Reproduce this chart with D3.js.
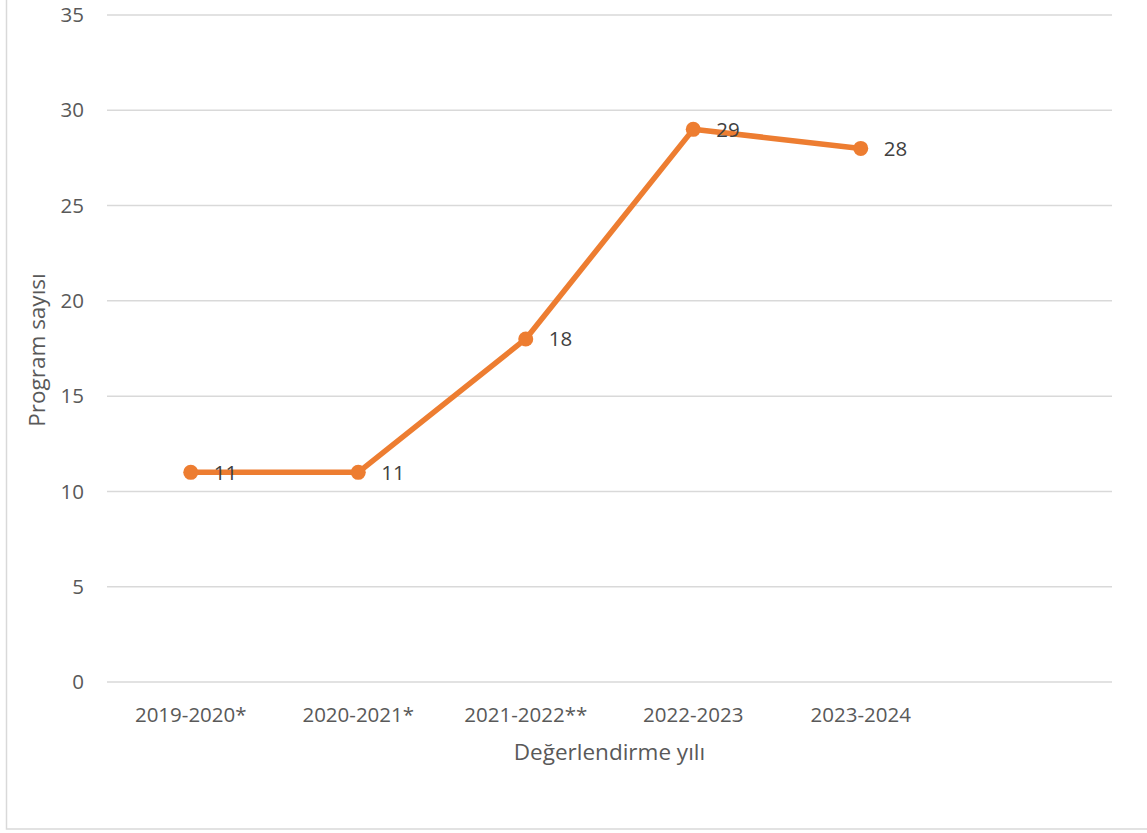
<!DOCTYPE html>
<html>
<head>
<meta charset="utf-8">
<script src="https://cdn.jsdelivr.net/npm/d3@7"></script>
<style>
body{margin:0;background:#fff;}
text{font-family:"Open Sans",sans-serif;}
</style>
</head>
<body>
<div class="canvas"></div>
<script>
// data
const categories=['2019-2020*','2020-2021*','2021-2022**','2022-2023','2023-2024'];
const values=[11,11,18,29,28];
const yTicks=[0,5,10,15,20,25,30,35];
const slotCount=6; // excel leaves one empty slot at the right

const W=1147,H=833;
const svg=d3.select('.canvas').append('svg')
  .attr('width',W)
  .attr('height',H);

// outer chart border
svg.append('rect')
  .attr('x',6.5).attr('y',-5)
  .attr('width',1150).attr('height',834)
  .attr('fill','#fff')
  .attr('stroke','#d9d9d9')
  .attr('stroke-width',1.5);

const plotLeft=107,plotRight=1112,plotTop=15,plotBottom=682;

const x=d3.scaleBand()
  .domain(d3.range(slotCount))
  .range([plotLeft,plotRight]);
const y=d3.scaleLinear()
  .domain([0,35])
  .range([plotBottom,plotTop]);

//gridlines
svg.append('g')
  .selectAll('line')
  .data(yTicks)
  .join('line')
  .attr('x1',plotLeft).attr('x2',plotRight)
  .attr('y1',d=>y(d)).attr('y2',d=>y(d))
  .attr('stroke','#d9d9d9')
  .attr('stroke-width',1.5);

// y axis labels
svg.append('g')
  .selectAll('text')
  .data(yTicks)
  .join('text')
  .attr('x',84)
  .attr('y',d=>y(d))
  .attr('dy','0.35em')
  .attr('text-anchor','end')
  .attr('fill','#595959')
  .style('font-size','20.5px')
  .text(d=>d);

// x axis labels
svg.append('g')
  .selectAll('text')
  .data(categories)
  .join('text')
  .attr('x',(d,i)=>x(i)+x.bandwidth()/2)
  .attr('y',722)
  .attr('text-anchor','middle')
  .attr('fill','#595959')
  .style('font-size','20.5px')
  .text(d=>d);

// axis titles
svg.append('text')
  .attr('x',(plotLeft+plotRight)/2)
  .attr('y',760)
  .attr('text-anchor','middle')
  .attr('fill','#595959')
  .style('font-size','22.5px')
  .text('Değerlendirme yılı');

svg.append('text')
  .attr('transform','translate(45,350) rotate(-90)')
  .attr('text-anchor','middle')
  .attr('fill','#595959')
  .style('font-size','22.5px')
  .text('Program sayısı');

const cx=(d,i)=>x(i)+x.bandwidth()/2;

// line
const line=d3.line()
  .x((d,i)=>cx(d,i))
  .y(d=>y(d));
svg.append('path')
  .datum(values)
  .attr('d',line)
  .attr('fill','none')
  .attr('stroke','#ED7D31')
  .attr('stroke-width',5.5)
  .attr('stroke-linejoin','round')
  .attr('stroke-linecap','round');

// markers
svg.append('g')
  .selectAll('circle')
  .data(values)
  .join('circle')
  .attr('cx',cx)
  .attr('cy',d=>y(d))
  .attr('r',7.5)
  .attr('fill','#ED7D31');

// value labels
svg.append('g')
  .selectAll('text')
  .data(values)
  .join('text')
  .attr('x',(d,i)=>cx(d,i)+23)
  .attr('y',d=>y(d))
  .attr('dy','0.35em')
  .attr('fill','#404040')
  .style('font-size','20.5px')
  .text(d=>d);
</script>
</body>
</html>
